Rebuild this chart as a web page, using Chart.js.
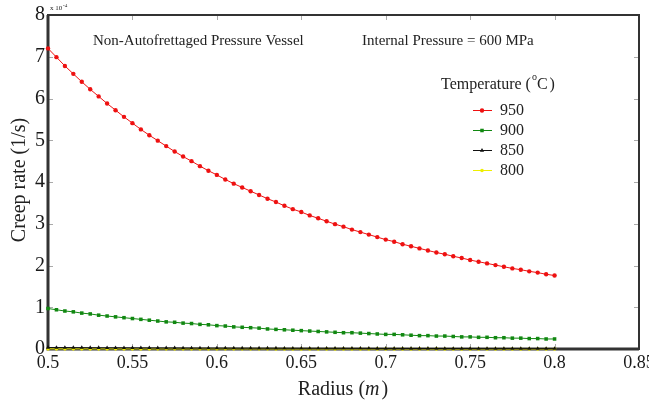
<!DOCTYPE html>
<html><head><meta charset="utf-8">
<script src="https://cdn.jsdelivr.net/npm/chart.js@4/dist/chart.umd.min.js"></script>
<style>html,body{margin:0;padding:0;background:#fff}#wrap{width:649px;height:405px}</style>
</head><body><div id="wrap"><canvas id="c" width="649" height="405"></canvas></div>
<script>
// Radius (m)
const radius = [
0.500,0.505,0.510,0.515,0.520,0.525,0.530,0.535,0.540,0.545,
0.550,0.555,0.560,0.565,0.570,0.575,0.580,0.585,0.590,0.595,
0.600,0.605,0.610,0.615,0.620,0.625,0.630,0.635,0.640,0.645,
0.650,0.655,0.660,0.665,0.670,0.675,0.680,0.685,0.690,0.695,
0.700,0.705,0.710,0.715,0.720,0.725,0.730,0.735,0.740,0.745,
0.750,0.755,0.760,0.765,0.770,0.775,0.780,0.785,0.790,0.795,
0.800];
// Creep rate, in units of 1e-4 1/s
const t950 = [
7.20,6.99,6.78,6.59,6.40,6.22,6.05,5.88,5.72,5.56,
5.41,5.26,5.12,4.99,4.86,4.73,4.61,4.50,4.38,4.27,
4.17,4.06,3.96,3.87,3.78,3.69,3.60,3.52,3.43,3.35,
3.28,3.20,3.13,3.06,2.99,2.93,2.86,2.80,2.74,2.68,
2.62,2.57,2.51,2.46,2.41,2.36,2.31,2.27,2.22,2.18,
2.13,2.09,2.05,2.01,1.97,1.93,1.90,1.86,1.83,1.79,
1.76];
const t900 = [
0.97,0.94,0.91,0.89,0.86,0.84,0.81,0.79,0.77,0.75,
0.73,0.71,0.69,0.67,0.65,0.64,0.62,0.61,0.59,0.58,
0.56,0.55,0.53,0.52,0.51,0.50,0.48,0.47,0.46,0.45,
0.44,0.43,0.42,0.41,0.40,0.39,0.39,0.38,0.37,0.36,
0.35,0.35,0.34,0.33,0.32,0.32,0.31,0.31,0.30,0.29,
0.29,0.28,0.28,0.27,0.27,0.26,0.26,0.25,0.25,0.24,
0.24];
const t850 = [
0.036,0.035,0.034,0.033,0.032,0.031,0.030,0.029,0.029,0.028,
0.027,0.026,0.026,0.025,0.024,0.024,0.023,0.022,0.022,0.021,
0.021,0.020,0.020,0.019,0.019,0.018,0.018,0.018,0.017,0.017,
0.016,0.016,0.016,0.015,0.015,0.015,0.014,0.014,0.014,0.013,
0.013,0.013,0.013,0.012,0.012,0.012,0.012,0.011,0.011,0.011,
0.011,0.010,0.010,0.010,0.010,0.010,0.009,0.009,0.009,0.009,
0.009];
const t800 = [
0.004,0.004,0.004,0.004,0.004,0.004,0.004,0.004,0.004,0.004,
0.004,0.004,0.003,0.003,0.003,0.003,0.003,0.003,0.003,0.003,
0.003,0.003,0.003,0.003,0.003,0.003,0.003,0.002,0.002,0.002,
0.002,0.002,0.002,0.002,0.002,0.002,0.002,0.002,0.002,0.002,
0.002,0.002,0.002,0.002,0.002,0.002,0.002,0.001,0.001,0.001,
0.001,0.001,0.001,0.001,0.001,0.001,0.001,0.001,0.001,0.001,
0.001];
const seriesLabels = ['950','900','850','800'];
const xTicks = [0.5,0.55,0.6,0.65,0.7,0.75,0.8,0.85];
const yTicks = [0,1,2,3,4,5,6,7,8];

const SERIF = '"Liberation Serif","Times New Roman",serif';
const colors = ['#ee1111','#118811','#111111','#eeee00'];
const styles = ['circle','rect','triangle','circle'];
const radii = [2.2,2.5,2.4,1.8];
const vals = [t950,t900,t850,t800];

const datasets = vals.map((v,i)=>({
  label: seriesLabels[i],
  data: radius.map((r,j)=>({x:r,y:v[j]})),
  borderColor: colors[i], backgroundColor: colors[i],
  borderWidth: 1, pointStyle: styles[i], pointRadius: radii[i],
  pointBorderWidth: 0, showLine: true, clip: false, order: i
}));

const framePlugin = {
  id:'frame',
  beforeDatasetsDraw(chart){
    const {ctx, chartArea:a, scales:{x,y}} = chart;
    ctx.save();
    ctx.strokeStyle='#aaa'; ctx.lineWidth=1;
    xTicks.forEach(t=>{const px=Math.round(x.getPixelForValue(t))+0.5;
      ctx.beginPath();ctx.moveTo(px,a.bottom);ctx.lineTo(px,a.bottom-5);ctx.stroke();
      ctx.beginPath();ctx.moveTo(px,a.top);ctx.lineTo(px,a.top+5);ctx.stroke();});
    yTicks.forEach(t=>{const py=Math.round(y.getPixelForValue(t))+0.5;
      ctx.beginPath();ctx.moveTo(a.left,py);ctx.lineTo(a.left+5,py);ctx.stroke();
      ctx.beginPath();ctx.moveTo(a.right,py);ctx.lineTo(a.right-5,py);ctx.stroke();});
    ctx.strokeStyle='#333'; ctx.lineWidth=2;
    ctx.strokeRect(a.left,a.top,a.right-a.left,a.bottom-a.top);
    ctx.lineWidth=3;
    ctx.beginPath();ctx.moveTo(a.left,a.top);ctx.lineTo(a.left,a.bottom);ctx.lineTo(a.right,a.bottom);ctx.stroke();
    ctx.restore();
  },
  afterDraw(chart){
    const {ctx, chartArea:a} = chart;
    ctx.save();
    ctx.fillStyle='#222';
    // exponent
    ctx.font='7px '+SERIF; ctx.textBaseline='alphabetic'; ctx.textAlign='left';
    ctx.fillText('x 10',a.left+2,a.top-5);
    ctx.font='5px '+SERIF; ctx.fillText('-4',a.left+15,a.top-8);
    // annotations
    ctx.font='15px '+SERIF;
    ctx.fillText('Non-Autofrettaged Pressure Vessel',93,45);
    ctx.fillText('Internal Pressure = 600 MPa',362,45);
    // legend title
    ctx.font='16px '+SERIF;
    let tx=441, ty=89;
    ctx.fillText('Temperature (',tx,ty); tx+=ctx.measureText('Temperature (').width;
    ctx.font='10px '+SERIF; ctx.fillText('o',tx+1,ty-9); tx+=ctx.measureText('o').width+1;
    ctx.font='16px '+SERIF; ctx.fillText('C',tx,ty); tx+=ctx.measureText('C').width+2;
    ctx.fillText(')',tx,ty);
    // legend entries
    const rows=[110,130,150,170];
    rows.forEach((ry,i)=>{
      ctx.strokeStyle=colors[i]; ctx.lineWidth=1;
      ctx.beginPath();ctx.moveTo(473,ry+0.5);ctx.lineTo(492,ry+0.5);ctx.stroke();
      ctx.fillStyle=colors[i];
      Chart.helpers.drawPoint(ctx,{pointStyle:styles[i],radius:radii[i],borderWidth:0},482,ry+0.5);
      ctx.fillStyle='#222'; ctx.font='16px '+SERIF; ctx.textBaseline='middle';
      ctx.fillText(seriesLabels[i],500,ry+1);
    });
    // axis titles
    ctx.textBaseline='middle';
    const p1='Radius (', p3=')';
    ctx.font='20px '+SERIF; const w1=ctx.measureText(p1).width, w3=ctx.measureText(p3).width;
    ctx.font='italic 20px '+SERIF; const w2=ctx.measureText('m').width+2;
    let sx=343-(w1+w2+w3)/2;
    ctx.font='20px '+SERIF; ctx.fillText(p1,sx,390);
    ctx.font='italic 20px '+SERIF; ctx.fillText('m',sx+w1,390);
    ctx.font='20px '+SERIF; ctx.fillText(p3,sx+w1+w2,390);
    ctx.translate(20,180); ctx.rotate(-Math.PI/2);
    ctx.textAlign='center'; ctx.font='20px '+SERIF;
    ctx.fillText('Creep rate (1/s)',0,0);
    ctx.restore();
  }
};

new Chart(document.getElementById('c'),{
  type:'scatter',
  data:{datasets},
  options:{
    responsive:false, animation:false, devicePixelRatio:1,
    layout:{padding:{top:15,right:10,left:0,bottom:0}},
    plugins:{legend:{display:false},tooltip:{enabled:false}},
    scales:{
      x:{type:'linear',min:0.5,max:0.85,afterBuildTicks:s=>{s.ticks=xTicks.map(v=>({value:v}));},
        grid:{display:false,drawTicks:false,tickLength:0},border:{display:false},
        ticks:{color:'#1a1a1a',font:{family:SERIF,size:18},padding:3,maxRotation:0,autoSkip:false,
          callback:v=>String(Number(v.toFixed(2)))},
        afterFit:s=>{s.height=56;s.paddingLeft=0;s.paddingRight=0;}},
      y:{type:'linear',min:0,max:8,afterBuildTicks:s=>{s.ticks=yTicks.map(v=>({value:v}));},
        grid:{display:false,drawTicks:false,tickLength:0},border:{display:false},
        ticks:{color:'#1a1a1a',font:{family:SERIF,size:20},padding:3,autoSkip:false},
        afterFit:s=>{s.width=48;s.paddingTop=0;s.paddingBottom=0;}}
    }
  },
  plugins:[framePlugin]
});
</script></body></html>
